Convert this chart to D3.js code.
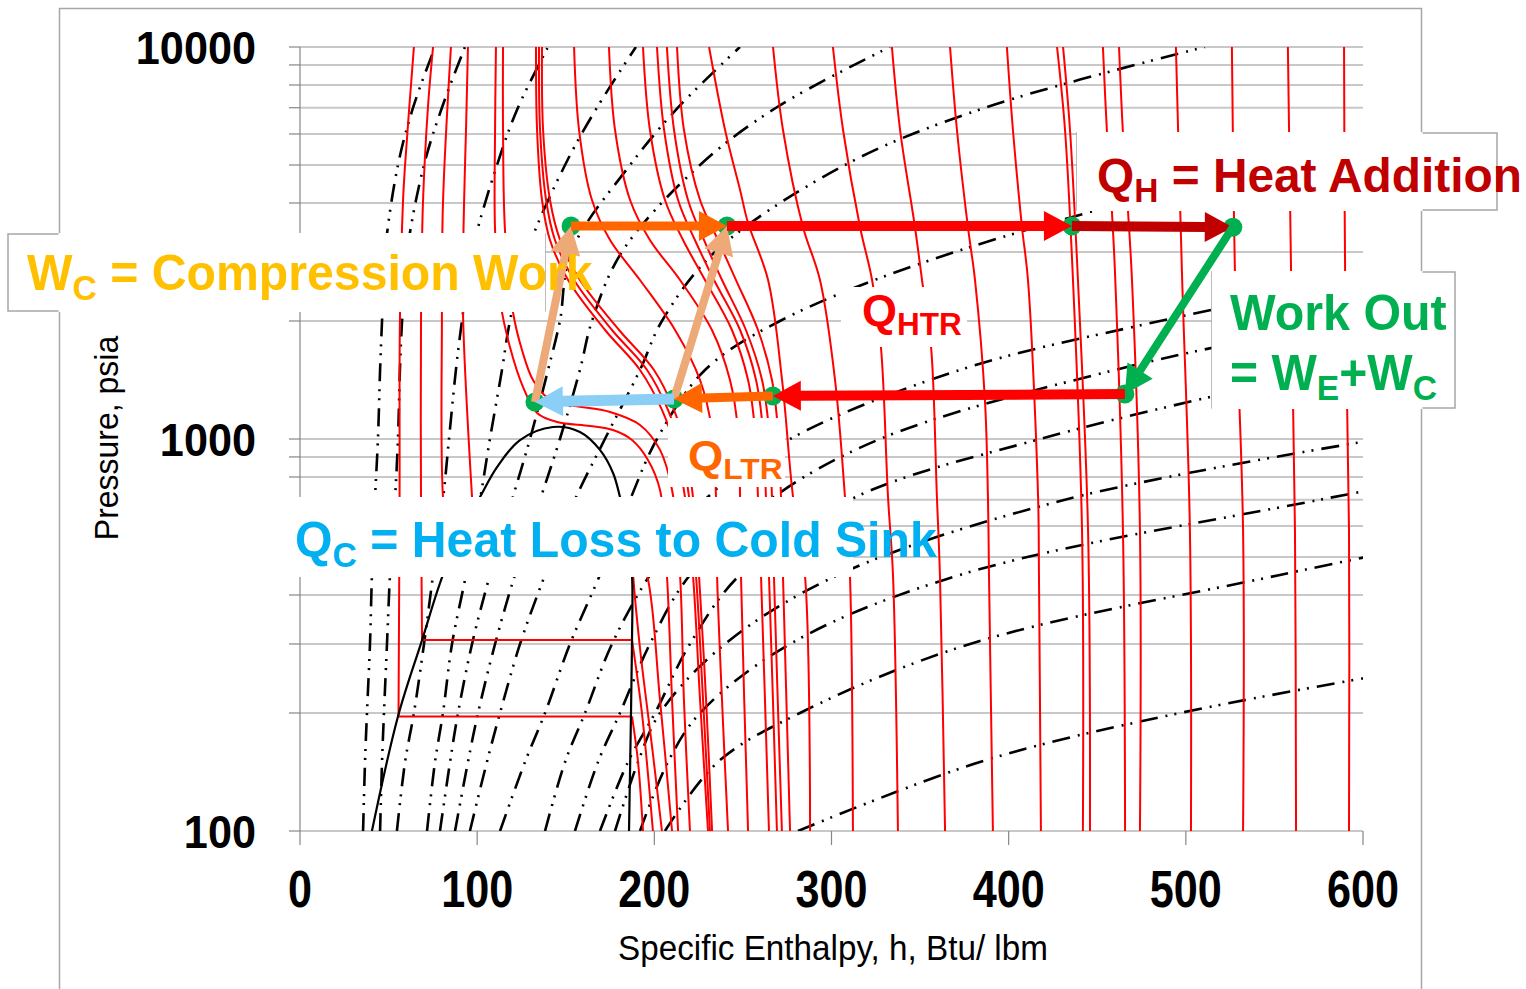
<!DOCTYPE html>
<html lang="en">
  <head>
    <meta charset="UTF-8" />
    <title>CO2 Pressure-Enthalpy Diagram - Recompression Cycle</title>
    <script src="https://d3js.org/d3.v7.min.js"></script>
    <style>
      body { margin: 0; background: #fff; }
      svg { display: block; }
      text { font-family: "Liberation Sans", Arial, sans-serif; white-space: pre; }
    </style>
  </head>
  <body>
    <svg id="chart" width="1526" height="989"></svg>

    <script>
      // ---- axis values ----
      const hTicks = [0, 100, 200, 300, 400, 500, 600];
      const pLabels = [100, 1000, 10000];

      // ---- saturation dome (h, P) ----
      const domeH = [40.6, 55.3, 68.9, 80.7, 93.1, 101.6, 111.2, 124.2, 142.8, 158.0, 169.3, 176.7, 180.6, 184.6, 187.4, 187.4, 186.8, 185.7];
      const domeP = [100, 196, 307, 450, 603, 711, 848, 994, 1073, 1042, 938, 819, 711, 586, 450, 307, 196, 100];

      // ---- isotherms, cold side (liquid + near critical), [h, P] ----
      const isoCold = [
        [[64.3, 10000], [59.3, 5000], [58.1, 4000], [56.4, 2000], [56.2, 711], [55.6, 196], [187.4, 196], [190.8, 150], [193.6, 100]],
        [[75.1, 10000], [72.2, 7000], [69.4, 4000], [68.3, 2000], [68.3, 711], [68.9, 307], [187.4, 307], [193.0, 200], [199.2, 100]],
        [[85.2, 10000], [80.7, 4000], [80.1, 2000], [80.7, 711], [84.7, 503], [187.4, 503], [188.0, 450], [192.0, 290], [199.0, 160], [204.3, 100]],
        [[94.8, 10000], [93.7, 6150], [92.6, 4000], [92.0, 2100], [97.1, 711], [97.6, 659], [182.3, 659], [188.0, 552], [195.9, 450], [203.2, 216], [210.0, 100]],
        [[110.6, 10000], [110.1, 6150], [110.1, 3414], [112.9, 2262], [118.5, 1717], [125.9, 1357], [133.8, 1165], [145.1, 1105], [163.7, 1080], [176.7, 1054], [187.4, 994], [196.4, 884], [203.2, 741], [207.1, 450], [210.0, 216], [213.4, 100]],
        [[114.6, 10000], [114.6, 6150], [115.7, 3414], [120.2, 2109], [125.3, 1687], [131.5, 1414], [140.0, 1272], [152.4, 1221], [175.0, 1172], [191.9, 1086], [203.2, 938], [210.0, 741], [214.5, 450], [216.7, 216], [220.1, 100]],
      ];

      // ---- isotherms, mid group (h at shared pressures) ----
      const midP1 = [10000, 6150, 4071, 3219, 2544, 1897, 1500, 1186, 938, 711, 450, 216, 100];
      const midH1 = [
        [133.2, 133.8, 136.6, 141.1, 151.3, 172.2, 191.9, 204.3, 212.2, 217.3, 221.8, 225.8, 230.3],
        [134.9, 135.5, 138.9, 143.9, 154.7, 176.1, 195.9, 207.7, 215.0, 219.6, 223.5, 227.5, 231.4],
        [136.6, 137.2, 141.1, 146.8, 158.0, 180.1, 199.8, 211.1, 217.9, 221.8, 225.2, 229.2, 232.6],
      ];
      const midP2 = [10000, 6150, 4071, 3219, 2544, 1897, 1414, 1054, 711, 450, 100];
      const midH2 = [
        [154.7, 157.5, 164.8, 175.0, 191.9, 211.7, 225.8, 232.5, 234.8, 235.4, 241.6],
        [174.4, 177.8, 186.3, 197.5, 214.5, 232.5, 242.7, 247.2, 248.4, 248.9, 252.9],
        [193.6, 197.5, 206.0, 216.2, 228.6, 243.8, 252.9, 256.8, 258.5, 260.2, 264.7],
        [201.5, 205.5, 213.4, 222.9, 233.7, 248.4, 257.4, 261.3, 263.0, 264.7, 269.2],
        [207.1, 211.1, 219.0, 228.0, 238.2, 251.7, 260.8, 264.7, 266.4, 267.5, 272.0],
        [212.8, 216.7, 225.8, 235.9, 246.1, 258.5, 266.4, 269.8, 271.5, 272.6, 276.6],
      ];

      // ---- isotherms, hot side, [h, P] ----
      const isoHot = [
        [[230.9, 10000], [239.9, 6150], [248.4, 4317], [252.9, 3556], [264.2, 2544], [272.1, 1414], [278.3, 711], [285.0, 450], [287.9, 100]],
        [[267.0, 10000], [272.6, 6150], [283.9, 3474], [293.5, 2544], [302.0, 1414], [307.6, 711], [310.4, 450], [312.1, 100]],
        [[300.8, 10000], [306.5, 6150], [316.1, 3474], [322.9, 2544], [327.9, 1717], [331.9, 711], [334.7, 450], [337.5, 100]],
        [[334.1, 10000], [338.7, 6150], [347.1, 3474], [351.1, 2544], [356.2, 1717], [359.5, 711], [361.2, 450], [364.1, 100]],
        [[366.9, 10000], [370.8, 6150], [377.0, 3474], [381.0, 2544], [386.6, 1258], [388.3, 711], [388.9, 450], [391.1, 100]],
        [[399.0, 10000], [402.4, 6150], [407.5, 3474], [410.9, 2544], [416.6, 711], [417.1, 450], [418.2, 100]],
        [[427.3, 10000], [431.8, 6150], [436.3, 2544], [441.4, 586], [441.9, 100]],
        [[430.7, 10000], [434.6, 6150], [439.1, 2544], [444.8, 586], [445.9, 100]],
        [[453.2, 10000], [455.5, 6034], [458.3, 3793], [460.0, 2667], [464.5, 586], [465.7, 100]],
        [[462.3, 10000], [464.5, 6034], [467.4, 3793], [469.6, 2544], [474.1, 586], [474.1, 100]],
        [[494.4, 10000], [497.8, 2667], [502.3, 586], [502.9, 100]],
        [[526.0, 10000], [527.7, 2667], [532.3, 586], [532.3, 100]],
        [[557.6, 10000], [559.4, 2667], [561.6, 586], [562.2, 100]],
        [[589.3, 10000], [589.9, 2667], [592.1, 586], [592.1, 100]],
      ];

      // ---- isentropes: h at shared pressure levels (null = off chart) ----
      const isenP = [100, 150, 200, 300, 450, 700, 1000, 1500, 2000, 3000, 5000, 7000, 10000];
      const isenH = [
        [35.6, 36.7, 37.8, 39.5, 40.6, 42.3, 44.0, 45.2, 46.3, 48.0, 55.3, 63.8, 76.2],
        [45.2, 46.3, 47.4, 49.1, 50.8, 53.6, 55.3, 56.4, 57.6, 60.4, 70.0, 80.1, 93.1],
        [54.7, 59.3, 64.3, 70.0, 75.1, 80.7, 84.1, 88.0, 91.4, 97.1, 111.2, 123.0, 140.0],
        [71.7, 76.2, 80.7, 85.8, 93.7, 101.6, 107.2, 114.0, 118.5, 128.1, 149.6, 167.6, 189.6],
        [79.0, 84.7, 89.2, 97.1, 107.2, 119.7, 129.8, 140.0, 146.7, 153.0, 186.3, 213.3, 248.3],
        [87.5, 94.8, 100.5, 110.1, 121.3, 135.5, 146.7, 158.0, 164.8, 181.7, 225.8, 268.7, 333.0],
        [95.9, 105.5, 112.9, 124.2, 138.3, 155.2, 172.1, 191.9, 204.3, 234.2, 307.6, 386.6, 510.8],
        [112.9, 127.0, 138.3, 152.4, 169.3, 186.3, 201.5, 228.6, 270.9, 369.7, 558.8, 790.2, null],
        [138.3, 149.6, 160.9, 176.1, 197.5, 228.6, 276.6, 372.5, 485.4, 677.3, null, null, null],
        [155.2, 168.2, 180.6, 197.5, 220.1, 265.3, 327.4, 460.0, 592.6, 818.4, null, null, null],
        [169.3, 185.1, 200.4, 220.1, 248.3, 310.4, 417.7, 584.1, 733.7, null, null, null, null],
        [177.8, 190.8, 203.2, 239.9, 303.7, 431.8, 609.6, null, null, null, null, null, null],
        [191.9, 207.7, 225.8, 276.6, 372.5, 575.7, 761.9, null, null, null, null, null, null],
        [206.0, 235.9, 282.2, 378.2, 553.1, 761.9, null, null, null, null, null, null, null],
        [281.1, 383.8, 496.7, 711.2, null, null, null, null, null, null, null, null, null],
      ];

      // ---- cycle state points ----
      const stateH = [132.6, 153.0, 211.1, 241.0, 266.9, 435.7, 526.5, 465.6];
      const stateP = [1243, 3494, 1265, 3494, 1288, 3494, 3470, 1302];
      // legs: from state, to state
      const legFrom = [0, 2, 1, 3, 5, 6, 7, 4, 2];
      const legTo = [1, 3, 3, 5, 6, 7, 4, 2, 0];

      // ---------------------------------------------------------------
      const svg = d3.select("#chart"),
        W = +svg.attr("width"),
        H = +svg.attr("height"),
        margin = { top: 47, right: 163, bottom: 158, left: 300 };

      const x = d3.scaleLinear().domain([0, 600]).range([margin.left, W - margin.right]);
      const y = d3.scaleLog().domain([100, 10000]).range([H - margin.bottom, margin.top]);
      const x0 = x(0), x1 = x(600), yTop = y(10000), yBot = y(100);

      // outer frame
      svg.append("rect")
        .attr("x", 59.5).attr("y", 8.5).attr("width", 1362).attr("height", 1000)
        .attr("fill", "none").attr("stroke", "#a6a6a6").attr("stroke-width", 1.5);

      // horizontal gridlines
      svg.append("g").selectAll("line").data(y.ticks()).enter().append("line")
        .attr("x1", x0).attr("x2", x1)
        .attr("y1", (d) => y(d)).attr("y2", (d) => y(d))
        .attr("stroke", "#c8c8c8").attr("stroke-width", 2);

      svg.append("clipPath").attr("id", "plotClip").append("rect")
        .attr("x", x0).attr("y", yTop).attr("width", x1 - x0).attr("height", yBot - yTop);
      const plot = svg.append("g").attr("clip-path", "url(#plotClip)");

      const line = d3.line()
        .defined((d) => d[0] != null)
        .x((d) => x(d[0]))
        .y((d) => y(d[1]))
        .curve(d3.curveCatmullRom.alpha(0.5));

      // isentropes
      const isenData = isenH.map((hs) => hs.map((h, i) => [h, isenP[i]]));
      plot.append("g").selectAll("path").data(isenData).enter().append("path")
        .attr("d", line).attr("fill", "none")
        .attr("stroke", "#000").attr("stroke-width", 2.6)
        .attr("stroke-dasharray", "18,8,2,7,2,8");

      // isotherms: split at the flat two-phase part so it stays straight
      function splitFlat(pts) {
        const i = pts.findIndex((p, k) => k < pts.length - 1 && p[1] === pts[k + 1][1]);
        if (i < 0) return [pts];
        return [pts.slice(0, i + 1), [pts[i], pts[i + 1]], pts.slice(i + 1)];
      }
      const isoData = isoCold
        .concat(midH1.map((hs) => hs.map((h, i) => [h, midP1[i]])))
        .concat(midH2.map((hs) => hs.map((h, i) => [h, midP2[i]])))
        .concat(isoHot)
        .flatMap(splitFlat);
      plot.append("g").selectAll("path").data(isoData).enter().append("path")
        .attr("d", line).attr("fill", "none")
        .attr("stroke", "#ff0000").attr("stroke-width", 2);

      // saturation dome
      plot.append("path")
        .attr("d", line(domeH.map((h, i) => [h, domeP[i]])))
        .attr("fill", "none").attr("stroke", "#000").attr("stroke-width", 2.2);

      // y axis
      svg.append("line").attr("x1", x0).attr("x2", x0).attr("y1", yTop).attr("y2", yBot)
        .attr("stroke", "#868686").attr("stroke-width", 1.2);
      svg.append("g").selectAll("line").data(y.ticks()).enter().append("line")
        .attr("x1", x0 - 11).attr("x2", x0)
        .attr("y1", (d) => y(d)).attr("y2", (d) => y(d))
        .attr("stroke", "#868686").attr("stroke-width", 1.2);
      // x axis ticks
      svg.append("g").selectAll("line").data(hTicks).enter().append("line")
        .attr("x1", (d) => x(d)).attr("x2", (d) => x(d))
        .attr("y1", yBot).attr("y2", yBot + 14)
        .attr("stroke", "#868686").attr("stroke-width", 1.2);

      // tick labels
      svg.append("g").selectAll("text").data(hTicks).enter().append("text")
        .attr("text-anchor", "middle").style("font-size", "52px").style("font-weight", "bold")
        .attr("transform", (d) => `translate(${x(d)},${yBot + 76}) scale(0.83,1)`)
        .text((d) => d);
      svg.append("g").selectAll("text").data(pLabels).enter().append("text")
        .attr("text-anchor", "end").style("font-size", "47px").style("font-weight", "bold")
        .attr("transform", (d) => `translate(256,${y(d) + 17}) scale(0.92,1)`)
        .text((d) => d);

      // axis titles
      const yTitle = svg.append("text").attr("text-anchor", "middle")
        .style("font-size", "33px").text("Pressure, psia");
      const yw = yTitle.node().getBBox().width;
      yTitle.attr("transform", `translate(118,438) rotate(-90) scale(${205 / yw},1)`);
      const xTitle = svg.append("text").attr("text-anchor", "middle")
        .style("font-size", "35px").text("Specific Enthalpy, h, Btu/ lbm");
      const xw = xTitle.node().getBBox().width;
      xTitle.attr("transform", `translate(833,960) scale(${430 / xw},1)`);

      // label boxes: outline visible only outside the chart frame
      const frameL = 59.5, frameR = 1421.5;
      function box(bx0, by0, bx1, by1, outlined) {
        if (outlined) {
          svg.append("rect").attr("x", bx0).attr("y", by0)
            .attr("width", bx1 - bx0).attr("height", by1 - by0)
            .attr("fill", "#fff").attr("stroke", "#a6a6a6").attr("stroke-width", 1.5);
        }
        const ix0 = outlined ? Math.max(bx0, frameL - 1) : bx0;
        const ix1 = outlined ? Math.min(bx1, frameR + 1) : bx1;
        const pad = outlined ? 1 : 0;
        svg.append("rect").attr("x", ix0).attr("y", by0 - pad)
          .attr("width", ix1 - ix0).attr("height", by1 - by0 + 2 * pad)
          .attr("fill", "#fff");
      }
      box(8, 234, 545, 311, true);
      box(1077, 133, 1497, 210, true);
      box(1212, 272, 1455, 408, true);
      box(841, 287, 967, 347, false);
      box(668, 418, 785, 487, false);
      box(283, 497, 853, 577, false);

      // state points
      svg.append("g").selectAll("circle").data(stateH).enter().append("circle")
        .attr("cx", (d) => x(d)).attr("cy", (d, i) => y(stateP[i]))
        .attr("r", 9.5).attr("fill", "#00b050");

      // cycle arrows
      const legColor = ["#eda977", "#eda977", "#ff6600", "#ff0000", "#c00000", "#00b050", "#ff0000", "#ff6600", "#8bcff7"];
      const legShaft = [8, 8, 9, 10, 10, 8, 10, 9, 11];
      function arrowPts(ax, ay, bx, by, s, hw, hl) {
        const dx = bx - ax, dy = by - ay, len = Math.hypot(dx, dy);
        const ux = dx / len, uy = dy / len, nx = -uy, ny = ux;
        const cx = bx - ux * hl, cy = by - uy * hl;
        return [
          [ax + nx * s / 2, ay + ny * s / 2],
          [cx + nx * s / 2, cy + ny * s / 2],
          [cx + nx * hw / 2, cy + ny * hw / 2],
          [bx, by],
          [cx - nx * hw / 2, cy - ny * hw / 2],
          [cx - nx * s / 2, cy - ny * s / 2],
          [ax - nx * s / 2, ay - ny * s / 2],
        ];
      }
      svg.append("g").selectAll("polygon").data(legFrom).enter().append("polygon")
        .attr("points", (d, i) => arrowPts(
          x(stateH[d]), y(stateP[d]), x(stateH[legTo[i]]), y(stateP[legTo[i]]),
          legShaft[i], 30, 28).map((p) => p.join(",")).join(" "))
        .attr("fill", (d, i) => legColor[i]);

      // annotation labels
      function label(segs, lx, base, width, size, color) {
        const t = svg.append("text").attr("fill", color)
          .style("font-size", size + "px").style("font-weight", "bold");
        let low = false;
        segs.forEach(([str, sub]) => {
          const sp = t.append("tspan").text(str);
          if (sub) sp.style("font-size", size * 0.7 + "px");
          if (sub && !low) sp.attr("dy", size * 0.2);
          if (!sub && low) sp.attr("dy", -size * 0.2);
          low = !!sub;
        });
        const bb = t.node().getBBox();
        const s = width / bb.width;
        t.attr("transform", `translate(${lx - bb.x * s},${base}) scale(${s},1)`);
      }
      label([["W"], ["C", 1], [" = Compression Work"]], 27, 290, 566, 50, "#ffc000");
      label([["Q"], ["H", 1], [" = Heat Addition"]], 1097, 192, 425, 48, "#c00000");
      label([["Work Out"]], 1230, 330, 217, 50, "#00b050");
      label([["= W"], ["E", 1], ["+W"], ["C", 1]], 1230, 390, 207, 50, "#00b050");
      label([["Q"], ["HTR", 1]], 862, 326, 100, 45, "#ff0000");
      label([["Q"], ["LTR", 1]], 688, 470, 95, 43, "#ff6600");
      label([["Q"], ["C", 1], [" = Heat Loss to Cold Sink"]], 295, 557, 642, 50, "#00b0f0");
    </script>
  </body>
</html>
